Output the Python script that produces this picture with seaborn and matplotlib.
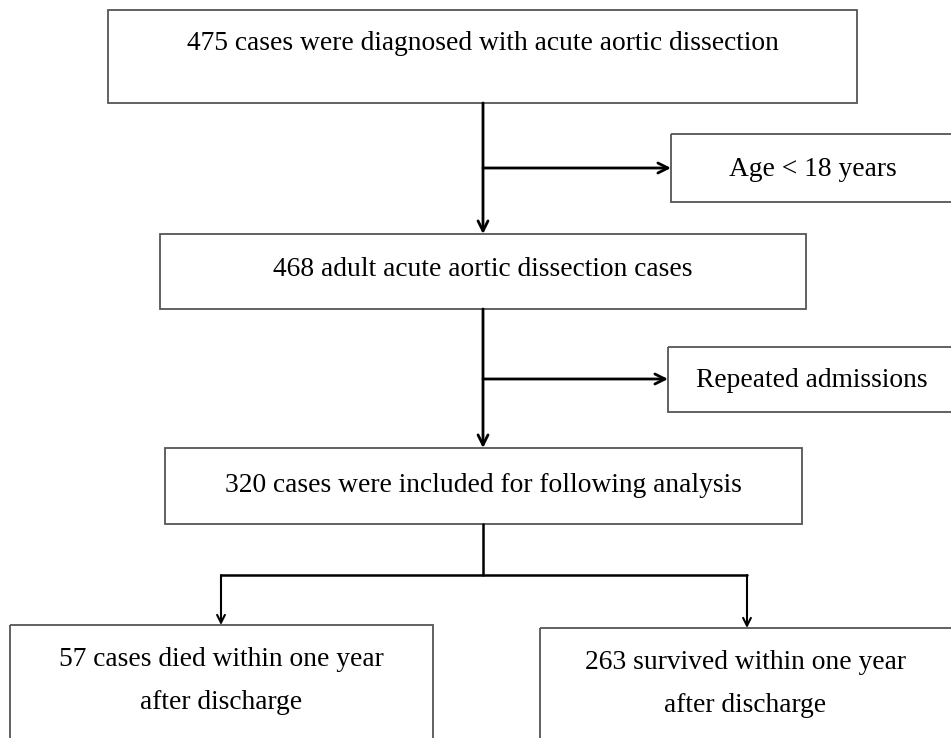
import matplotlib
matplotlib.use("Agg")
import matplotlib.pyplot as plt
from matplotlib.patches import Rectangle
import seaborn as sns

# texte din casete
main_steps = [
    "475 cases were diagnosed with acute aortic dissection",
    "468 adult acute aortic dissection cases",
    "320 cases were included for following analysis",
]
excluded = ["Age < 18 years", "Repeated admissions"]
outcomes = ["57 cases died within one year\nafter discharge",
            "263 survived within one year\nafter discharge"]

# pozitii casete (x0, y0, x1, y1) in pixeli, y in jos
main_boxes = [(108, 10, 857, 103), (160, 234, 806, 309), (165, 448, 802, 524)]
main_text_y = [43, 269, 486]
excl_boxes = [(671, 134, 953, 202), (668, 347, 953, 412)]
out_boxes = [(10, 625, 433, 745), (540, 628, 953, 745)]
out_text_y = [681, 684]

sns.set_style("white")
plt.rcParams['font.family'] = ['Liberation Serif', 'DejaVu Serif']

fig = plt.figure(figsize=(9.51, 7.38), dpi=100)
ax = fig.add_axes([0, 0, 1, 1])
ax.set_xlim(0, 951)
ax.set_ylim(738, 0)
ax.axis('off')

box_kw = dict(fill=False, edgecolor='#555555', linewidth=1.3)
fs = 19.8
txt_kw = dict(ha='center', va='center', fontsize=fs, color='black')


def box(b):
    x0, y0, x1, y1 = b
    ax.add_patch(Rectangle((x0, y0), x1 - x0, y1 - y0, **box_kw))


for b, t, ty in zip(main_boxes, main_steps, main_text_y):
    box(b)
    ax.text((b[0] + b[2]) / 2, ty, t, **txt_kw)

for b, t in zip(excl_boxes, excluded):
    box(b)
    ax.text((b[0] + 951) / 2 + 2, (b[1] + b[3]) / 2 + 1, t, **txt_kw)

for b, t, ty in zip(out_boxes, outcomes, out_text_y):
    box(b)
    ax.text((b[0] + min(b[2], 951)) / 2, ty, t, linespacing=1.9, **txt_kw)

# sageti
cx = 483
arr = dict(arrowstyle='->', color='black', lw=2, mutation_scale=18, shrinkA=0, shrinkB=0)
arr2 = dict(arrowstyle='->', color='black', lw=1.5, mutation_scale=14, shrinkA=0, shrinkB=0)

for top, bot in [(main_boxes[0], main_boxes[1]), (main_boxes[1], main_boxes[2])]:
    ax.annotate('', xy=(cx, bot[1]), xytext=(cx, top[3]), arrowprops=arr)

for b, yb in zip(excl_boxes, [168, 379]):
    ax.annotate('', xy=(b[0], yb), xytext=(cx, yb), arrowprops=arr)

# ramificare jos
split_y = 575
ax.plot([cx, cx], [main_boxes[2][3], split_y], color='black', lw=1.8)
left_x, right_x = 221, 747
ax.plot([left_x, right_x], [split_y, split_y], color='black', lw=1.8)
ax.annotate('', xy=(left_x, out_boxes[0][1]), xytext=(left_x, split_y), arrowprops=arr2)
ax.annotate('', xy=(right_x, out_boxes[1][1]), xytext=(right_x, split_y), arrowprops=arr2)

fig.savefig('out.png', dpi=100)
